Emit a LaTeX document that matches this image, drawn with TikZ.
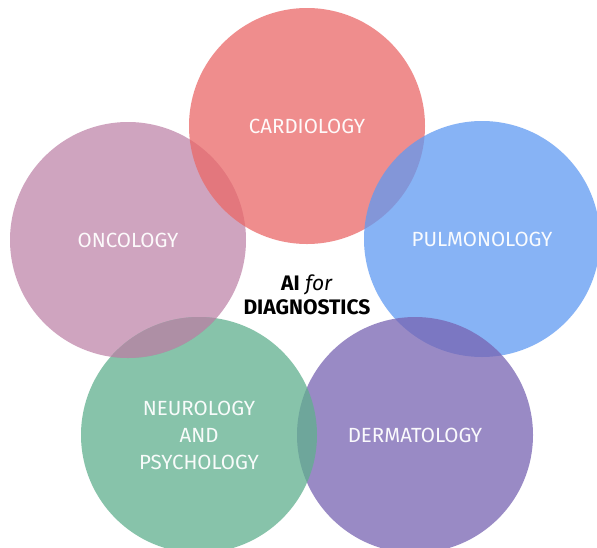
\documentclass[tikz,border=0pt]{standalone}
\usepackage{fontspec}
\setmainfont{Fira Sans}
\usepackage{tikz}
\definecolor{cardio}{RGB}{234,104,104}
\definecolor{onco}{RGB}{192,134,170}
\definecolor{pulmo}{RGB}{96,154,242}
\definecolor{dermato}{RGB}{120,100,178}
\definecolor{neuro}{RGB}{96,176,142}
\tikzset{>=latex,
    field/.style={circle, minimum size=236pt, inner sep=0pt, fill opacity=0.75,
        text opacity=0.95, text=white, align=center, font=\fontsize{20.5}{27}\selectfont},
    hub/.style={align=center, text=black, font=\fontsize{21}{24}\selectfont}}

\begin{document}
\begin{tikzpicture}[x=1pt, y=-1pt]
  \clip (0,0) rectangle (597,547);
  \fill[white] (0,0) rectangle (597,547);
  % the five fields, each laid over the one before
  \node[field, fill=onco] (onc) at (128,240) {ONCOLOGY};
  \node[field, fill=cardio] (car) at (307,126) {CARDIOLOGY};
  \node[field, fill=pulmo] (pul) at (482,239) {PULMONOLOGY};
  \node[field, fill=dermato] (der) at (415,435) {DERMATOLOGY};
  \node[field, fill=neuro] (neu) at (199,435) {NEUROLOGY\\AND\\PSYCHOLOGY};
  % oncology lies on top of neurology where they meet
  \begin{scope}
    \clip (neu.center) circle (118);
    \fill[onco, fill opacity=0.75] (onc.center) circle (118);
  \end{scope}
  \node[hub] (ai) at (307,295) {\textbf{AI} \textit{for}\\\textbf{DIAGNOSTICS}};
\end{tikzpicture}
\end{document}
